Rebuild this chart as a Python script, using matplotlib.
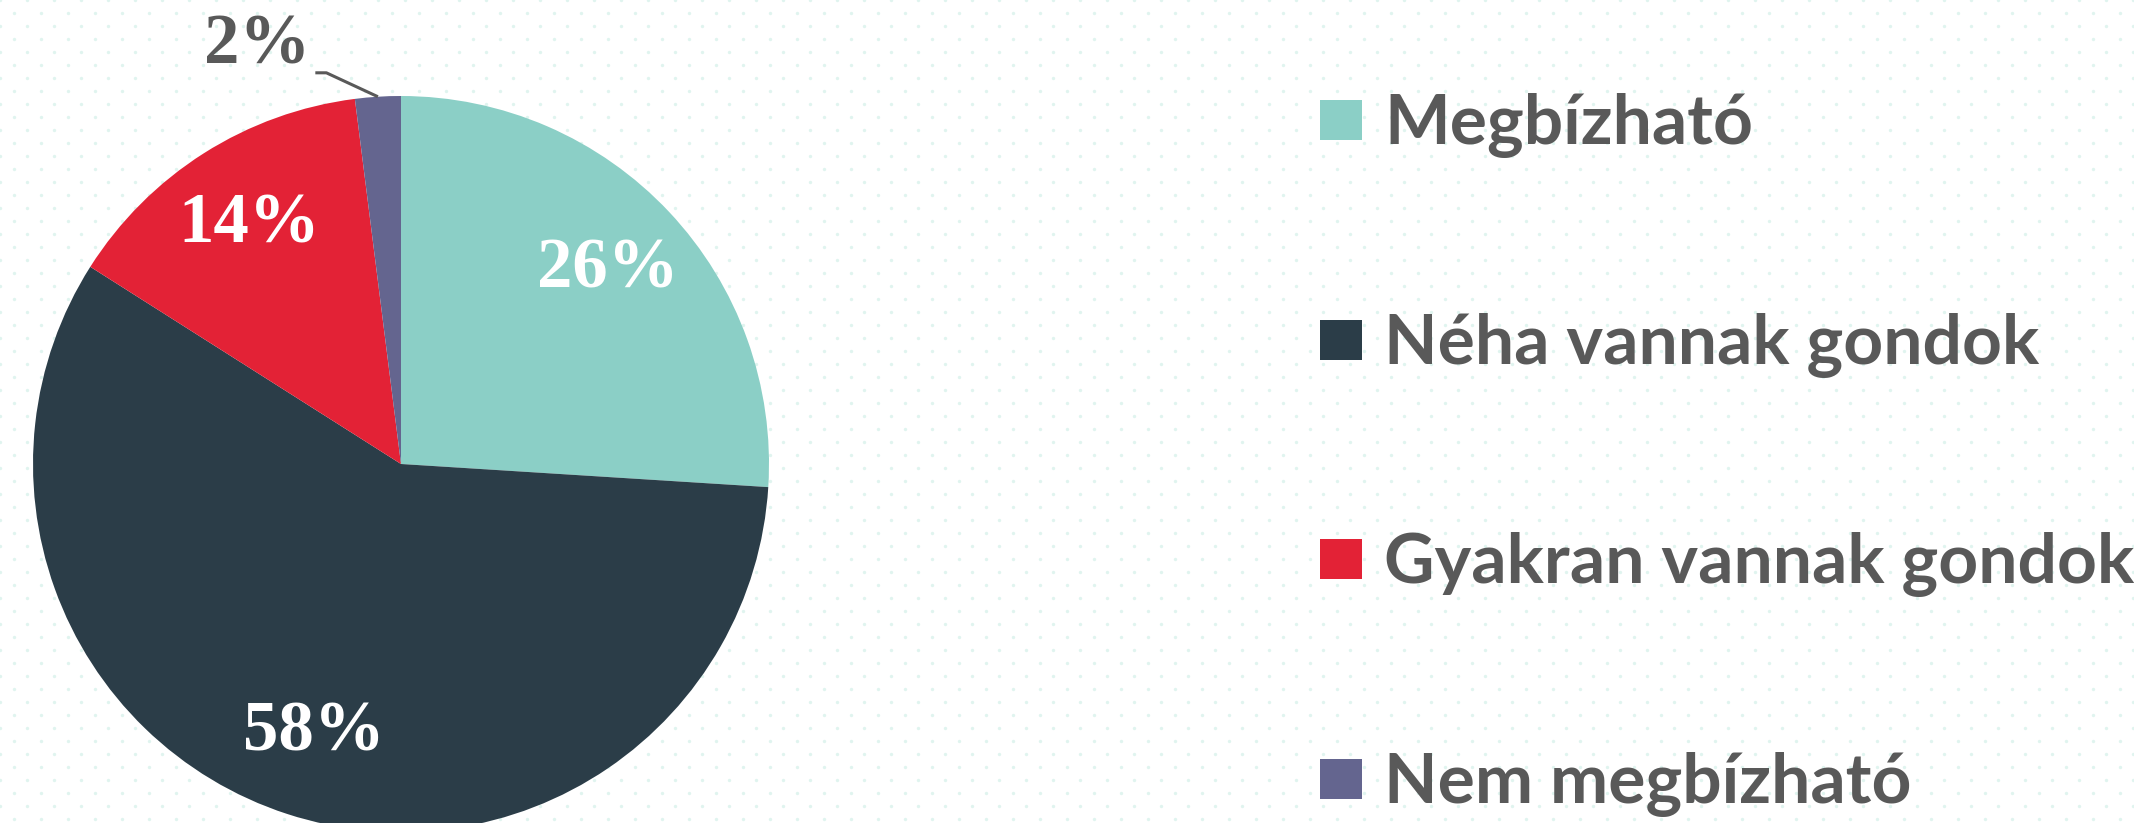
import numpy as np
import matplotlib
matplotlib.use("Agg")
import matplotlib.pyplot as plt
from matplotlib.patches import Rectangle

## Data

categories = ["Megbízható", "Néha vannak gondok", "Gyakran vannak gondok", "Nem megbízható"]
shares = [26, 58, 14, 2]
colors = ["#8bcfc6", "#2b3d48", "#e32236", "#64658f"]
text_grey = "#595959"

W, H = 2134, 823
fig = plt.figure(figsize=(W / 100, H / 100), dpi=100)
fig.patch.set_facecolor("white")

# full-figure axes in pixel units: background dots + legend
bg = fig.add_axes([0, 0, 1, 1])
bg.set_xlim(0, W)
bg.set_ylim(H, 0)
bg.axis("off")

# faint dotted background
gx, gy = np.meshgrid(np.arange(0, W + 30, 27.0), np.arange(0, H + 15, 13.0))
gx = gx + (np.arange(gx.shape[0])[:, None] % 2) * 13.5
bg.scatter(gx.ravel(), gy.ravel(), s=6, color="#e0f4ef", linewidths=0, zorder=0)

# pie axes: centre (401, 464) px, radius 368 px
cx, cy, r = 401, 464, 368
ax = fig.add_axes([(cx - r) / W, (H - cy - r) / H, 2 * r / W, 2 * r / H])

wedges, _ = ax.pie(shares, colors=colors, startangle=90, counterclock=False,
                   radius=1, wedgeprops=dict(linewidth=0))
ax.set_xlim(-1, 1)
ax.set_ylim(-1, 1)
ax.axis("off")

label_font = dict(family="Liberation Serif", weight="bold", size=51)
for w, v in zip(wedges, shares):
    mid = np.deg2rad((w.theta1 + w.theta2) / 2)
    if v >= 5:
        ax.text(0.77 * np.cos(mid), 0.77 * np.sin(mid), f"{v}%", color="white",
                ha="center", va="center", **label_font)
    else:
        # outside label with leader line
        ex, ey = np.cos(mid), np.sin(mid)
        kx, ky = ex - 0.14, ey + 0.065
        ax.plot([kx - 0.03, kx, ex], [ky, ky, ey], color=text_grey, lw=2.2,
                clip_on=False, solid_capstyle="butt")
        ax.text(kx - 0.045, ky - 0.015, f"{v}%", color=text_grey, ha="right",
                va="bottom", clip_on=False, **label_font)

# legend
row_y = [120, 340, 559, 779]
for name, c, y in zip(categories, colors, row_y):
    bg.add_patch(Rectangle((1320, y - 20), 42, 40, color=c, linewidth=0, zorder=2))
    bg.text(1384, y + 24, name, color=text_grey, family="Lato", weight="bold",
            size=50, ha="left", va="baseline", zorder=2)

fig.savefig("out.png", dpi=100)
